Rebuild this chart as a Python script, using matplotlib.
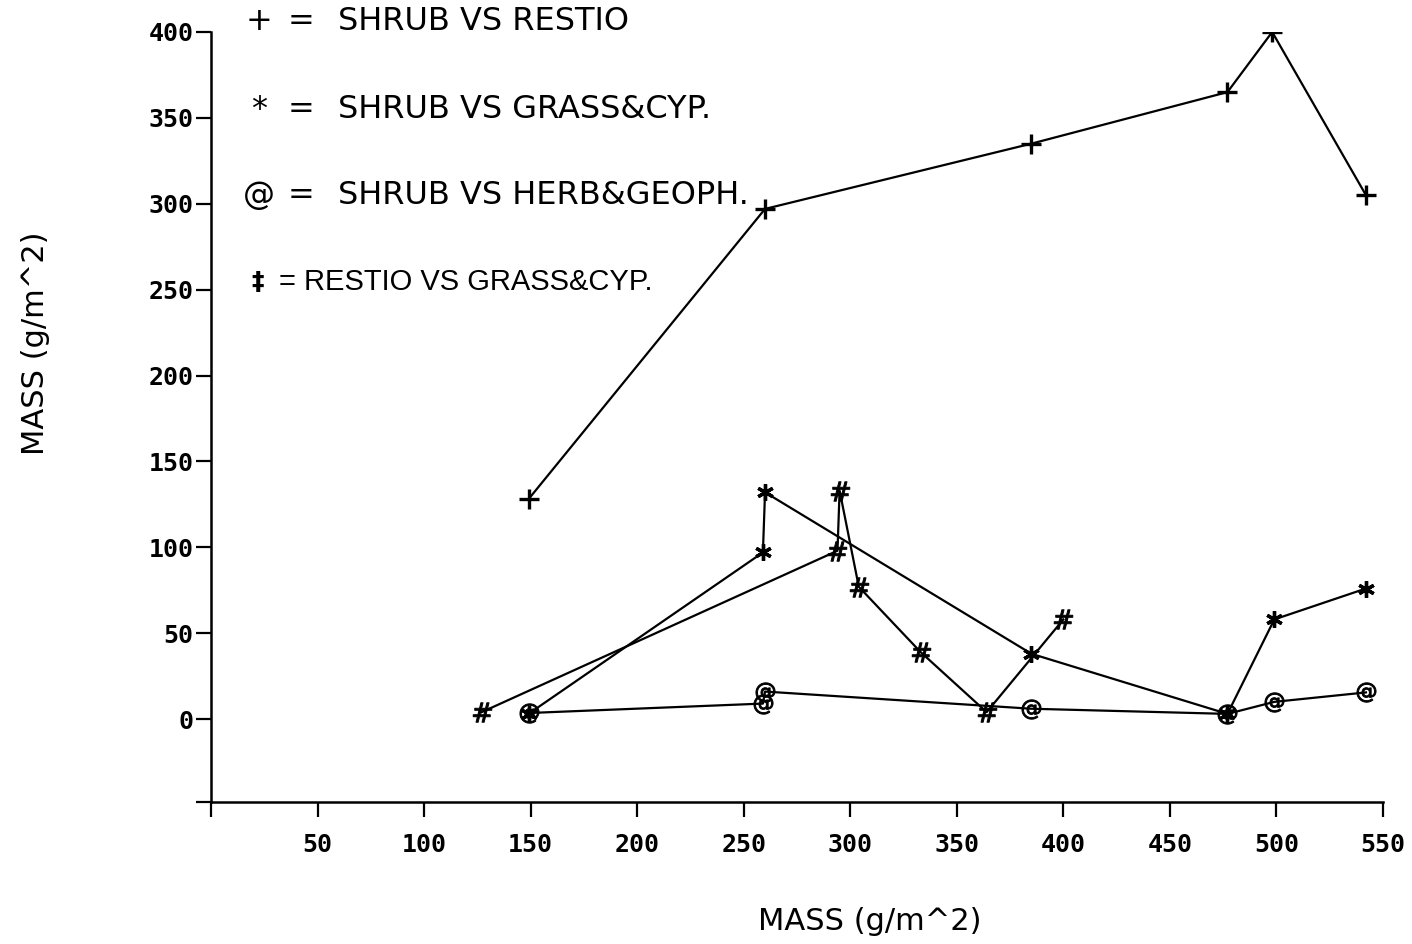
import matplotlib
matplotlib.use("Agg")
import matplotlib.pyplot as plt

# ---- data ----
restio_x = [149, 260, 385, 477, 498, 542]
restio_y = [128, 297, 335, 365, 400, 305]

grass_x = [149, 259, 260, 385, 477, 499, 542]
grass_y = [3, 97, 132, 38, 3, 58, 76]

herb_x = [149, 259, 260, 385, 477, 499, 542]
herb_y = [3.5, 9, 16, 6, 3, 10, 15.5]

rg_x = [127, 294, 295, 304, 333, 364, 400]
rg_y = [4, 98, 133, 77, 39, 4, 58]

xticks = [50, 100, 150, 200, 250, 300, 350, 400, 450, 500, 550]
yticks = [0, 50, 100, 150, 200, 250, 300, 350, 400]

legend_symbols = ["+", "*", "@", "#"]
legend_labels = ["SHRUB VS RESTIO", "SHRUB VS GRASS&CYP.",
                 "SHRUB VS HERB&GEOPH.", "RESTIO VS GRASS&CYP."]
axis_label = "MASS (g/m^2)"

W, H = 1412, 944
fig = plt.figure(figsize=(W / 100, H / 100), dpi=100)
ax = fig.add_axes([211 / W, 1 - 802 / H, (1383 - 211) / W, (802 - 32) / H])

lw = 1.6
ax.plot(restio_x, restio_y, color="black", lw=lw, marker="+", ms=14, mew=2.4)
ax.plot(grass_x, grass_y, color="black", lw=lw, marker=(6, 2, 0), ms=12, mew=2.4)
ax.plot(herb_x, herb_y, color="black", lw=lw, marker="$@$", ms=14, mew=0.7)
ax.plot(rg_x, rg_y, color="black", lw=lw, marker="$\\#$", ms=14, mew=0.7)

ax.set_xlim(0, 550)
ax.set_ylim(-48.3, 400)
for s in ["top", "right"]:
    ax.spines[s].set_visible(False)
for s in ["left", "bottom"]:
    ax.spines[s].set_linewidth(1.8)

ax.set_xticks([0] + xticks)
ax.set_xticklabels([""] + [str(v) for v in xticks])
ax.set_yticks([-48.3] + yticks)
ax.set_yticklabels([""] + [str(v) for v in yticks])
ax.tick_params(axis="both", direction="out", length=11, width=1.6,
               labelsize=18, colors="black")
ax.tick_params(axis="x", pad=11)
ax.tick_params(axis="y", pad=1.5)
for lab in ax.get_xticklabels() + ax.get_yticklabels():
    lab.set_family("DejaVu Sans Mono")
    lab.set_fontweight("bold")


def ftext(px, py, s, **kw):
    fig.text(px / W, 1 - py / H, s, **kw)


label_font = dict(family="DejaVu Sans", fontsize=22, color="black")
ftext(870, 922, axis_label, ha="center", va="center", **label_font)
ftext(36, 343, axis_label, ha="center", va="center", rotation=90, **label_font)

# legend-like key drawn as text
key_font = dict(family="DejaVu Sans", fontsize=23, color="black")
rows_y = [22, 110, 195]
for sym, lab, yy in zip(legend_symbols[:3], legend_labels[:3], rows_y):
    ftext(259, yy, sym, ha="center", va="center", **key_font)
    ftext(301, yy, "=", ha="center", va="center", **key_font)
    ftext(338, yy, lab, ha="left", va="center", **key_font)

ftext(258, 282, "\u2021", ha="center", va="center", family="DejaVu Sans",
      fontsize=18, fontweight="bold", color="black")
ftext(279, 282, "= " + legend_labels[3], ha="left", va="center",
      family="Liberation Sans", fontsize=21, color="black")

fig.savefig("out.png", dpi=100, facecolor="white")
